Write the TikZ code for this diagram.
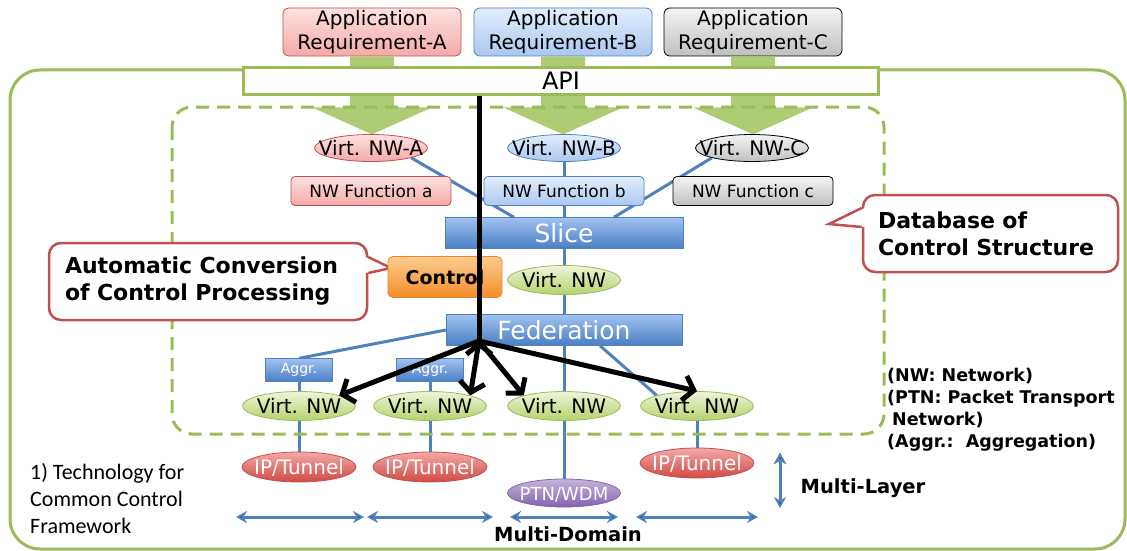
\documentclass[tikz,border=0pt]{standalone}
\usepackage{fontspec}
\setmainfont{DejaVu Sans}
\newfontfamily\calibrifont{Carlito}
\usetikzlibrary{calc,positioning,shapes.geometric,arrows.meta}
\pgfdeclarelayer{background}
\pgfsetlayers{background,main}

\definecolor{olgreen}{HTML}{9BBB59}
\definecolor{arrgreen}{HTML}{AECB75}
\definecolor{nwblue}{HTML}{4F81BD}
\definecolor{nwred}{HTML}{C0504D}
\definecolor{nwpurple}{HTML}{8064A2}
\definecolor{nworange}{HTML}{E9892C}
\definecolor{pinktop}{HTML}{FDE2E1}
\definecolor{pinkbot}{HTML}{F4A9A7}
\definecolor{bluetop}{HTML}{E3EEFC}
\definecolor{bluebot}{HTML}{AAC7EF}
\definecolor{greytop}{HTML}{F4F4F4}
\definecolor{greybot}{HTML}{C0C0C0}
\definecolor{bartop}{HTML}{A0C2EF}
\definecolor{barbot}{HTML}{4A7EC4}
\definecolor{lgtop}{HTML}{EEF5DA}
\definecolor{lgbot}{HTML}{B5D26C}
\definecolor{iptop}{HTML}{F4A8A6}
\definecolor{ipbot}{HTML}{D04A45}
\definecolor{ptntop}{HTML}{C6B5DE}
\definecolor{ptnbot}{HTML}{8262AE}
\definecolor{ortop}{HTML}{FCCD90}
\definecolor{orbot}{HTML}{F28C28}

\tikzset{
    frame/.style={
    draw=olgreen,line width=3pt,rounded corners=30pt
    },
    ctrlarea/.style={
    draw=olgreen,line width=3pt,rounded corners=20pt,dash pattern=on 13pt off 8pt
    },
    appreq/.style={
    rectangle,rounded corners=6pt,minimum width=178pt,minimum height=48pt,inner sep=0pt,
    align=center,line width=0.8pt,font=\fontsize{20}{24}\selectfont
    },
    reqa/.style={draw=nwred,top color=pinktop,bottom color=pinkbot},
    reqb/.style={draw=nwblue,top color=bluetop,bottom color=bluebot},
    reqc/.style={draw=black,top color=greytop,bottom color=greybot},
    apibox/.style={
    rectangle,draw=olgreen,line width=3pt,fill=white,minimum width=635pt,
    minimum height=26pt,inner sep=0pt,font=\fontsize{24}{26}\selectfont
    },
    vnwell/.style={
    ellipse,minimum width=113pt,minimum height=27pt,inner sep=0pt,line width=0.8pt,
    text height=14.5pt,text depth=0.5pt,font=\fontsize{20}{22}\selectfont,
    execute at begin node={\hbox to 0pt\bgroup\hss},execute at end node={\hss\egroup}
    },
    ella/.style={draw=nwred,top color=pinktop,bottom color=pinkbot},
    ellb/.style={draw=nwblue,top color=bluetop,bottom color=bluebot},
    ellc/.style={draw=black,top color=greytop,bottom color=greybot},
    ellg/.style={draw=olgreen,top color=lgtop,bottom color=lgbot},
    ellip/.style={draw=nwred,top color=iptop,bottom color=ipbot,text=white,minimum width=114pt,minimum height=30pt},
    ellptn/.style={draw=nwpurple,top color=ptntop,bottom color=ptnbot,text=white,minimum height=28pt,font=\fontsize{18}{20}\selectfont},
    nwfunc/.style={
    rectangle,rounded corners=4pt,minimum width=160pt,minimum height=29pt,inner sep=0pt,
    line width=0.8pt,font=\fontsize{17}{18}\selectfont
    },
    bluebar/.style={
    rectangle,draw=nwblue,top color=bartop,bottom color=barbot,minimum height=31pt,
    inner sep=0pt,text=white,font=\fontsize{25}{27}\selectfont
    },
    aggrbox/.style={
    rectangle,draw=nwblue,top color=bartop,bottom color=barbot,minimum width=67pt,
    minimum height=23pt,inner sep=0pt,text=white,font=\fontsize{14}{15}\selectfont
    },
    ctrlbox/.style={
    rectangle,rounded corners=5pt,draw=nworange,line width=0.8pt,top color=ortop,bottom color=orbot,
    minimum width=114pt,minimum height=41pt,inner sep=0pt,font=\bfseries\fontsize{19}{21}\selectfont
    },
    callout/.style={
    rectangle,rounded corners=12pt,draw=nwred,line width=2.5pt,fill=white,align=left,
    minimum height=77pt,inner xsep=16pt,font=\bfseries\fontsize{22}{27}\selectfont
    },
    calloutedge/.style={draw=nwred,line width=2.5pt,line join=miter},
    link/.style={draw=nwblue,line width=3pt},
    ctrlflow/.style={draw=black,line width=5pt},
    ctrlarrow/.style={draw=black,line width=5pt,line cap=round,-{Straight Barb[length=10pt,width=25pt]}},
    span/.style={draw=nwblue,line width=3pt,{Stealth[length=11pt,width=12pt]}-{Stealth[length=11pt,width=12pt]}},
    boldlabel/.style={font=\bfseries\fontsize{19.5}{23}\selectfont,inner sep=0pt},
}

\begin{document}
\begin{tikzpicture}[x=1pt,y=-1pt]
  \useasboundingbox (0,0) rectangle (1127,551);

  % common control framework
  \draw[frame] (10,70) rectangle (1125,549);

  \node[appreq,reqa] (appa) at (372,32) {Application\\Requirement-A};
  \node[appreq,reqb] (appb) at (563,32) {Application\\Requirement-B};
  \node[appreq,reqc] (appc) at (753,32) {Application\\Requirement-C};

  % wide arrows down through the API
  \foreach \n in {appa,appb,appc}
    \fill[arrgreen] ($(\n.south)+(-22,0)$) -- ++(0,51) -- ++(-38,0) -- ($(\n.south)+(0,78)$)
      -- ($(\n.south)+(60,51)$) -- ++(-38,0) -- ++(0,-51) -- cycle;

  \node[apibox] (api) at (561,81) {API};

  % database of control structure
  \draw[ctrlarea] (172,107) rectangle (884,434);

  \node[callout,text width=286pt] (convbox) at (208,281.5) {Automatic Conversion\\of Control Processing};
  \node[callout,text width=225pt,inner xsep=15pt] (dbbox) at (990.5,233.5) {Database of\\Control Structure};
  \coordinate (convtip) at (391,268);
  \coordinate (dbtip) at (829,224);
  \fill[white] ([xshift=-3pt,yshift=24.5pt]convbox.east) -- (convtip) -- ([xshift=-3pt,yshift=8.5pt]convbox.east) -- cycle;
  \draw[calloutedge] ([yshift=24.5pt]convbox.east) -- (convtip) -- ([yshift=8.5pt]convbox.east);
  \fill[white] ([xshift=3pt,yshift=25.5pt]dbbox.west) -- (dbtip) -- ([xshift=3pt,yshift=6.5pt]dbbox.west) -- cycle;
  \draw[calloutedge] ([yshift=25.5pt]dbbox.west) -- (dbtip) -- ([yshift=6.5pt]dbbox.west);

  \node[vnwell,ella] (vnwa) at (371,148) {Virt. NW-A};
  \node[vnwell,ellb] (vnwb) at (564,148) {Virt. NW-B};
  \node[vnwell,ellc] (vnwc) at (752,148) {Virt. NW-C};
  \node[nwfunc,reqa] (nfa) at (371,191) {NW Function a};
  \node[nwfunc,reqb] (nfb) at (564,191) {NW Function b};
  \node[nwfunc,reqc] (nfc) at (753,191) {NW Function c};
  \node[bluebar,minimum width=238pt] (slice) at (564,233) {Slice};
  \node[ctrlbox] (ctrl) at (445,277) {Control};
  \node[vnwell,ellg,minimum height=29pt] (vnw) at (564,280) {Virt. NW};
  \node[bluebar,minimum width=236pt] (fed) at (564,330) {Federation};
  \node[aggrbox] (aggr1) at (299,370) {Aggr.};
  \node[aggrbox] (aggr2) at (430,370) {Aggr.};
  \node[vnwell,ellg,minimum height=29pt] (vnw1) at (299,406) {Virt. NW};
  \node[vnwell,ellg,minimum height=29pt] (vnw2) at (430,406) {Virt. NW};
  \node[vnwell,ellg,minimum height=29pt] (vnw3) at (564,406) {Virt. NW};
  \node[vnwell,ellg,minimum height=29pt] (vnw4) at (697,406) {Virt. NW};
  \node[vnwell,ellip] (ip1) at (299,467) {IP/Tunnel};
  \node[vnwell,ellip] (ip2) at (430,467) {IP/Tunnel};
  \node[vnwell,ellip] (ip3) at (697,463) {IP/Tunnel};
  \node[vnwell,ellptn] (ptn) at (564,493) {PTN/WDM};

  \begin{pgfonlayer}{background}
  \path[link]
    (vnwa.south east) edge ([xshift=-50pt]slice.north)
    (vnwc.south west) edge ([xshift=50pt]slice.north)
    (vnwb) edge (slice)
    (slice) edge (fed)
    (fed.west) edge (aggr1.north)
    (fed) edge (ptn)
    ([xshift=36pt]fed.south) edge (vnw4.north west)
    (aggr1) edge (ip1)
    (aggr2) edge (ip2)
    (vnw4) edge (ip3);
  \end{pgfonlayer}

  % control flow
  \coordinate (hub) at (479,341);
  \draw[ctrlflow] (api.south -| hub) -- (hub);
  \path[ctrlarrow]
    (hub) edge (vnw1.north east)
          edge (vnw2.north east)
          edge (vnw3.north west)
          edge (vnw4.north);

  % layers and domains
  \coordinate (d1a) at (236,517);
  \coordinate (d1b) at (364,517);
  \coordinate (d2a) at (367,517);
  \coordinate (d2b) at (493,517);
  \coordinate (d3a) at (510,517);
  \coordinate (d3b) at (618,517);
  \coordinate (d4a) at (636,517);
  \coordinate (d4b) at (758,517);
  \coordinate (la) at (780,453);
  \coordinate (lb) at (780,508);
  \path[span] (d1a) edge (d1b) (d2a) edge (d2b) (d3a) edge (d3b) (d4a) edge (d4b) (la) edge (lb);

  \node[boldlabel] (mlayer) at (863,488) {Multi-Layer};
  \node[boldlabel] (mdomain) at (568,534) {Multi-Domain};

  \node[anchor=west,align=left,inner sep=0pt,font=\calibrifont\fontsize{22}{27}\selectfont] (tech) at (30,499)
    {1) Technology for\\Common Control\\Framework};
  \node[anchor=north west,align=left,inner sep=0pt,font=\bfseries\fontsize{17.5}{22}\selectfont] (legend) at (887,368)
    {(NW: Network)\\(PTN: Packet Transport\\\hspace*{5pt}Network)\\(Aggr.:\ \ Aggregation)};
\end{tikzpicture}
\end{document}
